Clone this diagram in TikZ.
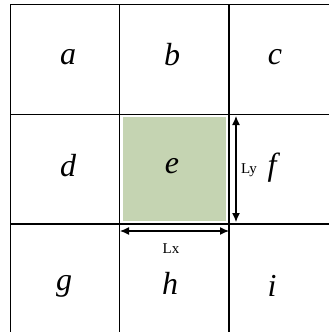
\documentclass[tikz,border=0pt]{standalone}
\usepackage{fontspec}
\setmainfont{Liberation Serif}
\usetikzlibrary{arrows.meta}
\definecolor{cellgreen}{HTML}{C5D4B2}

\begin{document}
\begin{tikzpicture}[x=1pt,y=-1pt,>=Latex, grid/.style={line width=0.9pt}, heavy/.style={line width=1.4pt}, cellname/.style={font=\fontsize{32}{32}\selectfont\itshape}, lab/.style={font=\fontsize{15}{15}\selectfont}, dim/.style={<->,line width=1.2pt,>={Latex[length=9pt,width=8pt]}}]
  \useasboundingbox (0,0) rectangle (329,332);
  \fill[cellgreen] (123,117) rectangle (226,221);
  \draw[grid] (10,332)--(10,4)--(329,4);
  \draw[grid] (119,4)--(119,332);
  \draw[grid] (10,114)--(329,114);
  \draw[heavy] (229,4)--(229,332);
  \draw[heavy] (10,224)--(329,224);
  \foreach \n/\x/\y in {a/68/57,b/172/55,c/275/57,d/68/166,e/172/166,f/272/168,g/64/286,h/170/283,i/272/286}{\node[cellname] (\n) at (\x,\y) {\n};}
  % dimension arrows
  \coordinate (ly-top) at (236,116);
  \coordinate (ly-bot) at (236,222);
  \coordinate (lx-left) at (120,231);
  \coordinate (lx-right) at (229,231);
  \draw[dim] (ly-top) -- (ly-bot);
  \draw[dim] (lx-left) -- (lx-right);
  \node[lab] (ly) at (249,170) {Ly};
  \node[lab] (lx) at (171,249) {Lx};
\end{tikzpicture}
\end{document}
